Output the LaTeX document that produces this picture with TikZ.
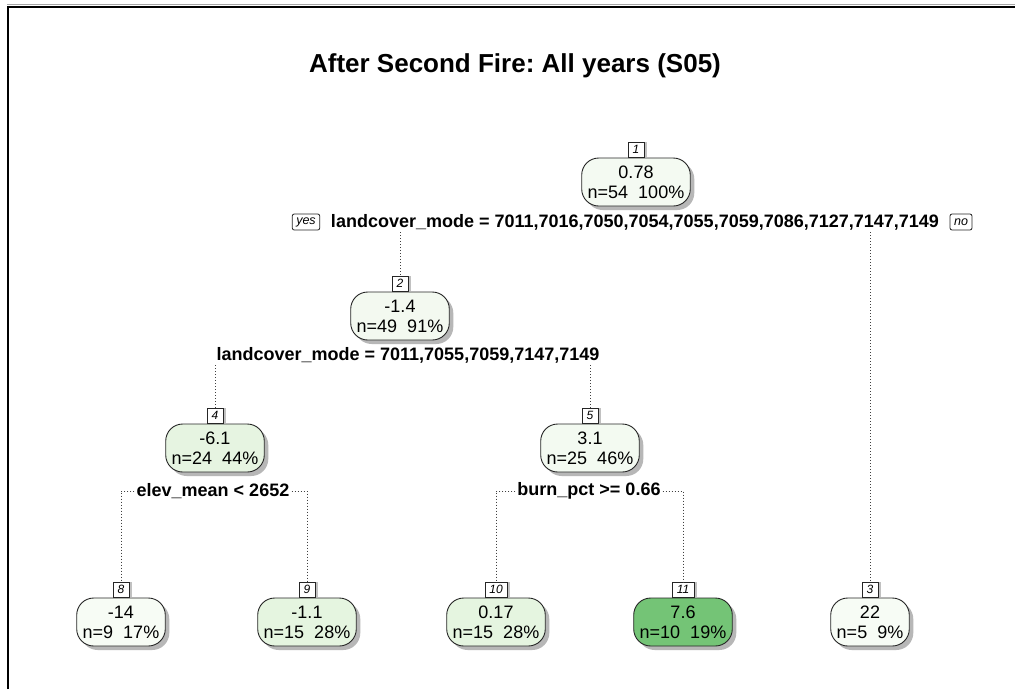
\documentclass[tikz,border=0pt]{standalone}
\usepackage{fontspec}
\setmainfont{Liberation Sans}
\usetikzlibrary{shadows}
\frenchspacing
\definecolor{cA}{HTML}{F4FAF2}
\definecolor{cB}{HTML}{F3F9F0}
\definecolor{cC}{HTML}{E6F4E1}
\definecolor{cD}{HTML}{F3FAF1}
\definecolor{cE}{HTML}{F7FCF5}
\definecolor{cF}{HTML}{E5F5E0}
\definecolor{cG}{HTML}{74C476}
\tikzset{
  tnode/.style={draw=black!85, line width=0.9pt, rounded corners=17pt, align=center,
    font=\fontsize{18}{20}\selectfont, inner xsep=6pt, inner ysep=3pt, minimum height=48pt,
    drop shadow={shadow xshift=4pt, shadow yshift=-4pt, fill=black!35, opacity=0.8}},
  tlab/.style={draw=black!85, line width=0.8pt, fill=white, anchor=south, inner sep=0pt,
    minimum width=16pt, minimum height=15pt, font=\fontsize{12}{12}\selectfont\itshape,
    drop shadow={shadow xshift=3pt, shadow yshift=0pt, fill=black!30, opacity=0.8}},
  tsplit/.style={font=\fontsize{18}{18}\selectfont\bfseries, inner sep=2pt, fill=white},
  tyn/.style={draw=black!85, line width=0.8pt, rounded corners=2pt, inner xsep=4pt, inner ysep=0pt,
    minimum height=16pt, font=\fontsize{12.5}{12.5}\selectfont\itshape, fill=white},
  tline/.style={line width=1pt, black!75, dash pattern=on 1pt off 2pt}
}
\begin{document}
\begin{tikzpicture}[x=1pt,y=-1pt]
\useasboundingbox (0,0) rectangle (1015,689);
\fill[white] (0,0) rectangle (1015,689);
\draw[black!35, line width=1pt] (7,4.5) -- (1015,4.5);
\draw[line width=2pt] (8,689) -- (8,7) -- (1015,7);

\node[font=\fontsize{26}{26}\selectfont\bfseries] (title) at (515,66) {After Second Fire: All years (S05)};

% nodes
\node[tnode, fill=cA] (n1) at (636,182) {0.78\\n=54\ \ 100\%};
\node[tnode, fill=cB] (n2) at (400,316) {-1.4\\n=49\ \ 91\%};
\node[tnode, fill=cC] (n4) at (215,448) {-6.1\\n=24\ \ 44\%};
\node[tnode, fill=cD] (n5) at (590,448) {3.1\\n=25\ \ 46\%};
\node[tnode, fill=cE] (n8) at (121,622) {-14\\n=9\ \ 17\%};
\node[tnode, fill=cF] (n9) at (307,622) {-1.1\\n=15\ \ 28\%};
\node[tnode, fill=cF] (n10) at (496,622) {0.17\\n=15\ \ 28\%};
\node[tnode, fill=cG] (n11) at (683,622) {7.6\\n=10\ \ 19\%};
\node[tnode, fill=cE] (n3) at (870,622) {22\\n=5\ \ 9\%};

% number labels
\node[tlab] (l1) at (n1.north) {1};
\node[tlab] (l2) at (n2.north) {2};
\node[tlab] (l4) at (n4.north) {4};
\node[tlab] (l5) at (n5.north) {5};
\node[tlab] (l8) at (n8.north) {8};
\node[tlab] (l9) at (n9.north) {9};
\node[tlab, minimum width=22pt] (l10) at (n10.north) {10};
\node[tlab, minimum width=22pt] (l11) at (n11.north) {11};
\node[tlab] (l3) at (n3.north) {3};

% split labels
\node[tsplit] (s1) at (635,222) {landcover\_mode = 7011,7016,7050,7054,7055,7059,7086,7127,7147,7149};
\node[tyn] (yes) at (306,222) {yes};
\node[tyn] (no) at (961,222) {no};
\node[tsplit] (s2) at (408,355) {landcover\_mode = 7011,7055,7059,7147,7149};
\node[tsplit] (s4) at (213,491) {elev\_mean < 2652};
\node[tsplit] (s5) at (589,491) {burn\_pct >= 0.66};

% connectors
\draw[tline] (l2.north |- s1.south) -- (l2.north);
\draw[tline] (l3.north |- s1.south) -- (l3.north);
\draw[tline] (l4.north |- s2.south) -- (l4.north);
\draw[tline] (l5.north |- s2.south) -- (l5.north);
\draw[tline] (s4.west) -- (s4.west -| l8.north) -- (l8.north);
\draw[tline] (s4.east) -- (s4.east -| l9.north) -- (l9.north);
\draw[tline] (s5.west) -- (s5.west -| l10.north) -- (l10.north);
\draw[tline] (s5.east) -- (s5.east -| l11.north) -- (l11.north);
\end{tikzpicture}
\end{document}
